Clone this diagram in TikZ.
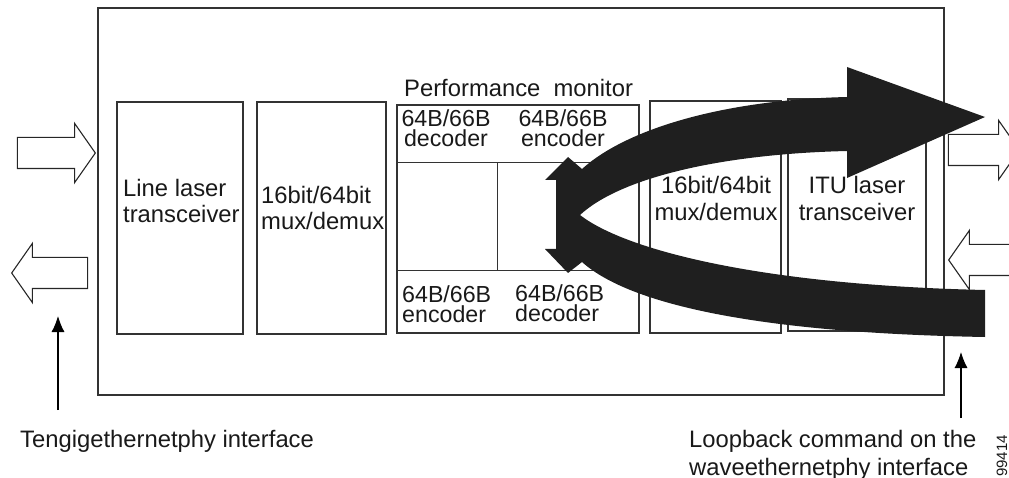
\documentclass[tikz,border=0pt]{standalone}
\usepackage{fontspec}
\setmainfont{Liberation Sans}
\usepackage{tikz}
\usetikzlibrary{
    arrows.meta,
    shapes.arrows,
    positioning
}

\begin{document}
\begin{tikzpicture}[x=1pt, y=-1pt,
    box/.style={draw=black!80, line width=1.3pt, inner sep=0pt},
    txt/.style={font=\fontsize{23.8}{26}\selectfont, inner sep=0pt, text=black!90},
    pmtxt/.style={txt, font=\fontsize{23.2}{20}\selectfont},
    hollow/.style={single arrow, draw=black!85, line width=1.1pt, fill=white,
        inner xsep=0pt, inner ysep=15pt, single arrow head extend=14pt,
        single arrow tip angle=110, anchor=tip},
    pointer/.style={draw=black, line width=1.1pt, -{Latex[length=16pt,width=13pt]}}
]
\useasboundingbox (0,0) rectangle (1009,478);
% card and its blocks
\node[box, line width=1.7pt, minimum width=846pt, minimum height=387pt] (card) at (521,201.5) {};
\node[box, minimum width=126pt, minimum height=232pt] (laser) at (180,218) {};
\node[box, minimum width=129pt, minimum height=232pt] (muxl) at (321.5,218) {};
\node[box, minimum width=242pt, minimum height=228pt] (pm) at (518,219) {};
\node[box, minimum width=131pt, minimum height=232pt] (muxr) at (715.5,217) {};
\node[box, minimum width=138pt, minimum height=232pt] (itu) at (857,215) {};
\draw[draw=black!80, line width=1.3pt] (pm.north west) ++(0,58) -- ++(242,0);
\draw[draw=black!80, line width=1.3pt] (pm.north west) ++(0,166) -- ++(242,0);
\draw[draw=black!80, line width=1.3pt] (pm.north west) ++(101,58) -- ++(0,108);
% labels (base = last line)
\node[txt, anchor=base west, align=left] (laserlbl) at (123,223) {Line laser\\transceiver};
\node[txt, anchor=base west, align=left] (muxllbl) at (261,230) {16bit/64bit\\mux/demux};
\node[txt, anchor=base west] (pmlbl) at (404,97) {Performance\ \ monitor};
\node[pmtxt, anchor=base, align=center] (dec1) at (446,147) {64B/66B\\decoder};
\node[pmtxt, anchor=base, align=center] (enc1) at (563,147) {64B/66B\\encoder};
\node[pmtxt, anchor=base west, align=left] (enc2) at (402,322) {64B/66B\\encoder};
\node[pmtxt, anchor=base west, align=left] (dec2) at (515,321) {64B/66B\\decoder};
\node[txt, anchor=base, align=center, font=\fontsize{23.8}{27}\selectfont] (muxrlbl) at (716,221) {16bit/64bit\\mux/demux};
\node[txt, anchor=base, align=center, font=\fontsize{23.8}{27}\selectfont] (itulbl) at (857,221) {ITU laser\\transceiver};
\node[txt, anchor=base west] (tglbl) at (20,447) {Tengigethernetphy interface};
\node[txt, anchor=base west, align=left, font=\fontsize{23.8}{28}\selectfont] (wvlbl) at (689,475) {Loopback command on the\\waveethernetphy interface};
\node[txt, font=\fontsize{15}{15}\selectfont, rotate=90] (figno) at (1002,456) {99414};
% traffic arrows
\node[hollow, minimum height=78pt] (tgin) at (96,153) {};
\node[hollow, shape border rotate=180, minimum height=76pt] (tgout) at (11,273) {};
\node[hollow, minimum height=71pt] (wvout) at (1020,150) {};
\node[hollow, shape border rotate=180, minimum height=76pt] (wvin) at (948,260) {};
% pointers
\coordinate (tgfoot) at (58,410);
\coordinate (tgtip) at (58,316);
\coordinate (wvfoot) at (961,418);
\coordinate (wvtip) at (961,352);
\draw[pointer] (tgfoot) -- (tgtip);
\draw[pointer] (wvfoot) -- (wvtip);
% loopback
\fill[black!88] (568,157) -- (582,169)
    .. controls (625,130) and (720,100) .. (847,97)
    -- (847,67) -- (985,117) -- (847,178) -- (847,151)
    .. controls (720,154) and (620,178) .. (580,215)
    .. controls (625,250) and (760,285) .. (985,290)
    -- (985,337)
    .. controls (760,333) and (630,305) .. (582,262)
    -- (568,273) -- (545,249) -- (556,249) -- (556,180) -- (545,180) -- cycle;
\end{tikzpicture}
\end{document}
